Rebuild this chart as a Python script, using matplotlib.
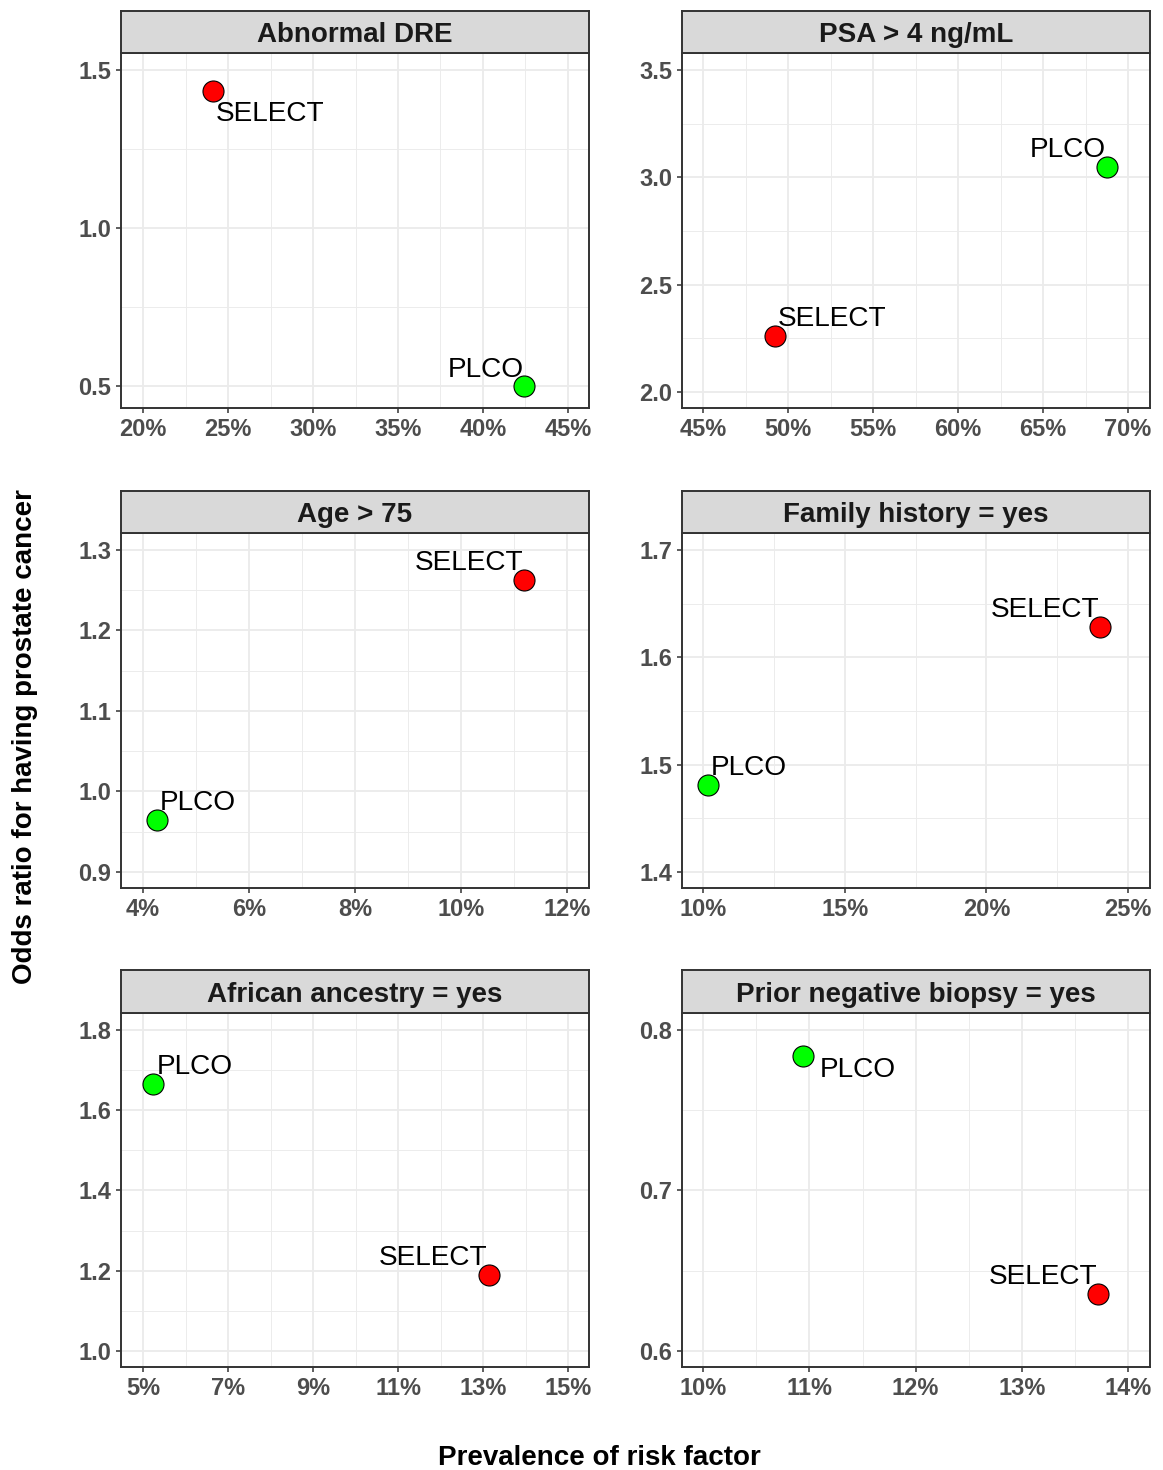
import numpy as np
import matplotlib
matplotlib.use("Agg")
import matplotlib.pyplot as plt
from matplotlib.ticker import PercentFormatter, FixedLocator

plt.rcParams['font.family'] = ['Liberation Sans', 'DejaVu Sans']

# facet titles, in reading order
facets = ["Abnormal DRE", "PSA > 4 ng/mL", "Age > 75",
          "Family history = yes", "African ancestry = yes",
          "Prior negative biopsy = yes"]

# prevalence of risk factor (fraction) and odds ratio, per study
select_prev = [0.2412, 0.4924, 0.1119, 0.2401, 0.1314, 0.1372]
select_or = [1.434, 2.259, 1.263, 1.628, 1.188, 0.6355]
plco_prev = [0.4241, 0.6876, 0.0426, 0.1018, 0.0524, 0.1094]
plco_or = [0.500, 3.047, 0.965, 1.481, 1.665, 0.784]

# axis breaks per facet
x_breaks = [[0.20, 0.25, 0.30, 0.35, 0.40, 0.45],
            [0.45, 0.50, 0.55, 0.60, 0.65, 0.70],
            [0.04, 0.06, 0.08, 0.10, 0.12],
            [0.10, 0.15, 0.20, 0.25],
            [0.05, 0.07, 0.09, 0.11, 0.13, 0.15],
            [0.10, 0.11, 0.12, 0.13, 0.14]]
y_breaks = [[0.5, 1.0, 1.5],
            [2.0, 2.5, 3.0, 3.5],
            [0.9, 1.0, 1.1, 1.2, 1.3],
            [1.4, 1.5, 1.6, 1.7],
            [1.0, 1.2, 1.4, 1.6, 1.8],
            [0.6, 0.7, 0.8]]

# view limits (ggplot-like expansion)
x_lims = [(0.1870, 0.4624), (0.4376, 0.7129), (0.03585, 0.12415),
          (0.0926, 0.2577), (0.0448, 0.1549), (0.0980, 0.14207)]
y_lims = [(0.430, 1.554), (1.925, 3.579), (0.880, 1.321),
          (1.385, 1.716), (0.960, 1.842), (0.590, 0.8106)]

# label placement: (ha, dx px, dy px below point), SELECT then PLCO
select_lab = [("left", 3, 30), ("left", 3, -10), ("right", -1, -10),
              ("right", -1, -10), ("right", -2, -10), ("right", -1, -10)]
plco_lab = [("right", 0, -9), ("right", -1, -10), ("left", 3, -10),
            ("left", 3, -10), ("left", 3, -10), ("left", 17, 21)]

W, H = 1163, 1470
fig = plt.figure(figsize=(W / 100, H / 100), dpi=100)

cols = [(121, 589), (682, 1150)]
rows = [(11, 53, 408), (491, 533, 888), (970, 1013, 1367)]

border = "#333333"
grid_c = "#EBEBEB"


def minor_ticks(br, lo, hi):
    step = br[1] - br[0]
    m = [b + step / 2 for b in br] + [br[0] - step / 2]
    return [v for v in m if lo <= v <= hi]


for i, title in enumerate(facets):
    x0, x1 = cols[i % 2]
    st, pt, pb = rows[i // 2]
    ax = fig.add_axes([x0 / W, 1 - pb / H, (x1 - x0) / W, (pb - pt) / H])
    sx = fig.add_axes([x0 / W, 1 - pt / H, (x1 - x0) / W, (pt - st) / H])

    # strip
    sx.set_facecolor("#D9D9D9")
    sx.set_xticks([])
    sx.set_yticks([])
    for s in sx.spines.values():
        s.set_color(border)
        s.set_linewidth(1.4)
    sx.text(0.5, 0.26, title, transform=sx.transAxes, ha="center",
            va="baseline", fontsize=20, fontweight="bold", color="#1A1A1A")

    ax.set_xlim(*x_lims[i])
    ax.set_ylim(*y_lims[i])
    ax.xaxis.set_major_locator(FixedLocator(x_breaks[i]))
    ax.yaxis.set_major_locator(FixedLocator(y_breaks[i]))
    ax.xaxis.set_minor_locator(FixedLocator(minor_ticks(x_breaks[i], *x_lims[i])))
    ax.yaxis.set_minor_locator(FixedLocator(minor_ticks(y_breaks[i], *y_lims[i])))
    ax.xaxis.set_major_formatter(PercentFormatter(xmax=1, decimals=0))
    ax.yaxis.set_major_formatter(plt.FormatStrFormatter("%.1f"))
    ax.grid(which="major", color=grid_c, lw=1.3, zorder=0)
    ax.grid(which="minor", color=grid_c, lw=0.65, zorder=0)
    ax.set_axisbelow(True)
    ax.tick_params(which="major", length=3.6, width=1.1, color=border,
                   pad=3.6, labelsize=17, labelcolor="#4D4D4D")
    ax.tick_params(which="minor", length=0)
    for lab in ax.get_xticklabels() + ax.get_yticklabels():
        lab.set_fontweight("bold")
    for s in ax.spines.values():
        s.set_color(border)
        s.set_linewidth(1.4)

    ax.scatter([select_prev[i]], [select_or[i]], s=229, c="#FF0000",
               edgecolors="black", linewidths=0.8, zorder=4)
    ax.scatter([plco_prev[i]], [plco_or[i]], s=229, c="#00FF00",
               edgecolors="black", linewidths=0.8, zorder=4)

    for name, px, py, (ha, dx, dy) in [("SELECT", select_prev[i], select_or[i], select_lab[i]),
                                       ("PLCO", plco_prev[i], plco_or[i], plco_lab[i])]:
        ax.annotate(name, (px, py), xytext=(dx * 0.72, -dy * 0.72),
                    textcoords="offset points", ha=ha, va="baseline",
                    fontsize=20.2, color="black", zorder=3)

fig.text(599 / W, 1 - 1465 / H, "Prevalence of risk factor", ha="center",
         va="baseline", fontsize=20, fontweight="bold")
fig.text(25 / W, 1 - 737 / H, "Odds ratio for having prostate cancer",
         rotation=90, ha="center", va="center", fontsize=20, fontweight="bold")

fig.savefig("out.png", dpi=100, facecolor="white")
